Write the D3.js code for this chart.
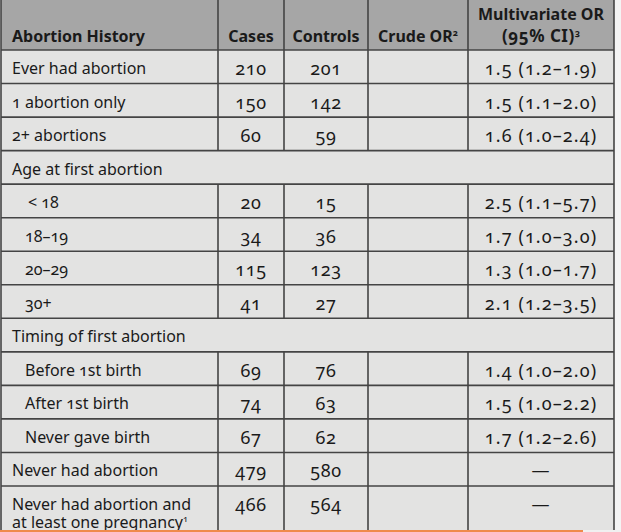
<!DOCTYPE html>
<html><head><meta charset="utf-8">
<script src="https://cdn.jsdelivr.net/npm/d3@7"></script>
<style>
html,body{margin:0;padding:0;background:#f4f4f4;}
svg{display:block;}
text{font-family:"Noto Sans",sans-serif;font-variant-numeric:oldstyle-nums;fill:#1a1a1a;}
</style></head>
<body>
<script>
// ---- data ----
const headers = ["Abortion History", "Cases", "Controls", "Crude OR", "Multivariate OR"];
const headerSup = ["", "", "", "2", ""];
const labels = ["Ever had abortion","1 abortion only","2+ abortions","Age at first abortion","< 18","18–19","20–29","30+","Timing of first abortion","Before 1st birth","After 1st birth","Never gave birth","Never had abortion","Never had abortion and"];
const labelLine2 = ["","","","","","","","","","","","","","at least one pregnancy"];
const rowKind = ["main","main","main","section","sub","sub","sub","sub","section","sub","sub","sub","main","main"];
const cases = [210,150,60,null,20,34,115,41,null,69,74,67,479,466];
const controls = [201,142,59,null,15,36,123,27,null,76,63,62,580,564];
const crudeOR = ["","","","","","","","","","","","","",""];
const multiOR = ["1.5 (1.2–1.9)","1.5 (1.1–2.0)","1.6 (1.0–2.4)",null,"2.5 (1.1–5.7)","1.7 (1.0–3.0)","1.3 (1.0–1.7)","2.1 (1.2–3.5)",null,"1.4 (1.0–2.0)","1.5 (1.0–2.2)","1.7 (1.2–2.6)","—","—"];

const W = 621, H = 532;
const svg = d3.select("body").append("svg").attr("width", W).attr("height", H);

const colEdges = [1, 218, 284, 368, 468, 614];
const headerH = 50;
const rowY = d3.scaleLinear().domain([0, 13]).range([headerH, 486]);
const nRows = labels.length;
const rowTop = i => rowY(i);
const rowBot = i => i === nRows - 1 ? rowY(i) + 68 : rowY(i + 1);

const lineCol = "#444";

// backgrounds
svg.append("rect").attr("x", colEdges[0]).attr("y", 0).attr("width", colEdges[5] - colEdges[0]).attr("height", headerH).attr("fill", "#a6a6a6");
svg.append("rect").attr("x", colEdges[0]).attr("y", headerH).attr("width", colEdges[5] - colEdges[0]).attr("height", H - headerH).attr("fill", "#e3e3e2");

// header text
const hg = svg.append("g").attr("font-size", 16).attr("font-weight", "bold");
hg.append("text").attr("x", 12).attr("y", 42).text(headers[0]);
hg.append("text").attr("x", (colEdges[1] + colEdges[2]) / 2).attr("y", 42).attr("text-anchor", "middle").text(headers[1]);
hg.append("text").attr("x", (colEdges[2] + colEdges[3]) / 2).attr("y", 42).attr("text-anchor", "middle").text(headers[2]);
const ch = hg.append("text").attr("x", (colEdges[3] + colEdges[4]) / 2).attr("y", 42).attr("text-anchor", "middle");
ch.append("tspan").text(headers[3]);
ch.append("tspan").attr("font-size", 9).attr("dy", -6).text(headerSup[3]);
const mx = (colEdges[4] + colEdges[5]) / 2;
hg.append("text").attr("x", mx).attr("y", 20).attr("text-anchor", "middle").text(headers[4]);
const m2 = hg.append("text").attr("x", mx).attr("y", 42).attr("text-anchor", "middle");
m2.append("tspan").attr("font-size", 17).attr("letter-spacing", 0.5).text("(95% CI)");
m2.append("tspan").attr("font-size", 9).attr("dy", -6).text("3");

// rows
const rg = svg.selectAll("g.row").data(labels.map((l, i) => i)).join("g").attr("class", "row");
rg.append("text")
  .attr("x", i => rowKind[i] === "sub" ? (labels[i].startsWith("<") ? 28 : 25) : 12)
  .attr("y", i => rowTop(i) + 24)
  .attr("font-size", 16)
  .each(function(i) {
    const t = d3.select(this);
    t.append("tspan").text(labels[i]);
    if (labelLine2[i] !== "") {
      t.append("tspan").attr("x", 12).attr("dy", 18).text(labelLine2[i]);
      t.append("tspan").attr("font-size", 9).attr("dy", -6).text("1");
    }
  });
const numAttrs = sel => sel.attr("text-anchor", "middle").attr("font-size", 18).attr("letter-spacing", 0.6);
rg.filter(i => cases[i] !== null).append("text")
  .attr("x", (colEdges[1] + colEdges[2]) / 2).attr("y", i => rowTop(i) + 25)
  .call(numAttrs).text(i => cases[i]);
rg.filter(i => controls[i] !== null).append("text")
  .attr("x", (colEdges[2] + colEdges[3]) / 2).attr("y", i => rowTop(i) + 25)
  .call(numAttrs).text(i => controls[i]);
rg.filter(i => rowKind[i] !== "section").append("text")
  .attr("x", (colEdges[3] + colEdges[4]) / 2).attr("y", i => rowTop(i) + 25)
  .call(numAttrs).text(i => crudeOR[i]);
rg.filter(i => multiOR[i] !== null).append("text")
  .attr("x", mx).attr("y", i => rowTop(i) + 25)
  .attr("text-anchor", "middle").attr("font-size", 18).attr("letter-spacing", 1.1)
  .text(i => multiOR[i]);

// grid lines
const gl = svg.append("g").attr("stroke", lineCol).attr("stroke-width", 1.6);
for (let i = 0; i < nRows; i++) {
  gl.append("line").attr("x1", colEdges[0]).attr("x2", colEdges[5]).attr("y1", rowTop(i)).attr("y2", rowTop(i));
}
gl.append("line").attr("x1", colEdges[0]).attr("x2", colEdges[0]).attr("y1", 0).attr("y2", H);
gl.append("line").attr("x1", colEdges[5]).attr("x2", colEdges[5]).attr("y1", 0).attr("y2", H);
for (let c = 1; c < 5; c++) {
  gl.append("line").attr("x1", colEdges[c]).attr("x2", colEdges[c]).attr("y1", 0).attr("y2", headerH);
  for (let i = 0; i < nRows; i++) {
    if (rowKind[i] === "section") continue;
    gl.append("line").attr("x1", colEdges[c]).attr("x2", colEdges[c]).attr("y1", rowTop(i)).attr("y2", Math.min(H, rowBot(i)));
  }
}

// bottom orange bar
svg.append("rect").attr("x", 0).attr("y", 530).attr("width", 583).attr("height", 2).attr("fill", "#ef8a4b");
svg.append("rect").attr("x", 583).attr("y", 530).attr("width", W - 583).attr("height", 2).attr("fill", "#f0f0f0");
</script>
</body></html>
